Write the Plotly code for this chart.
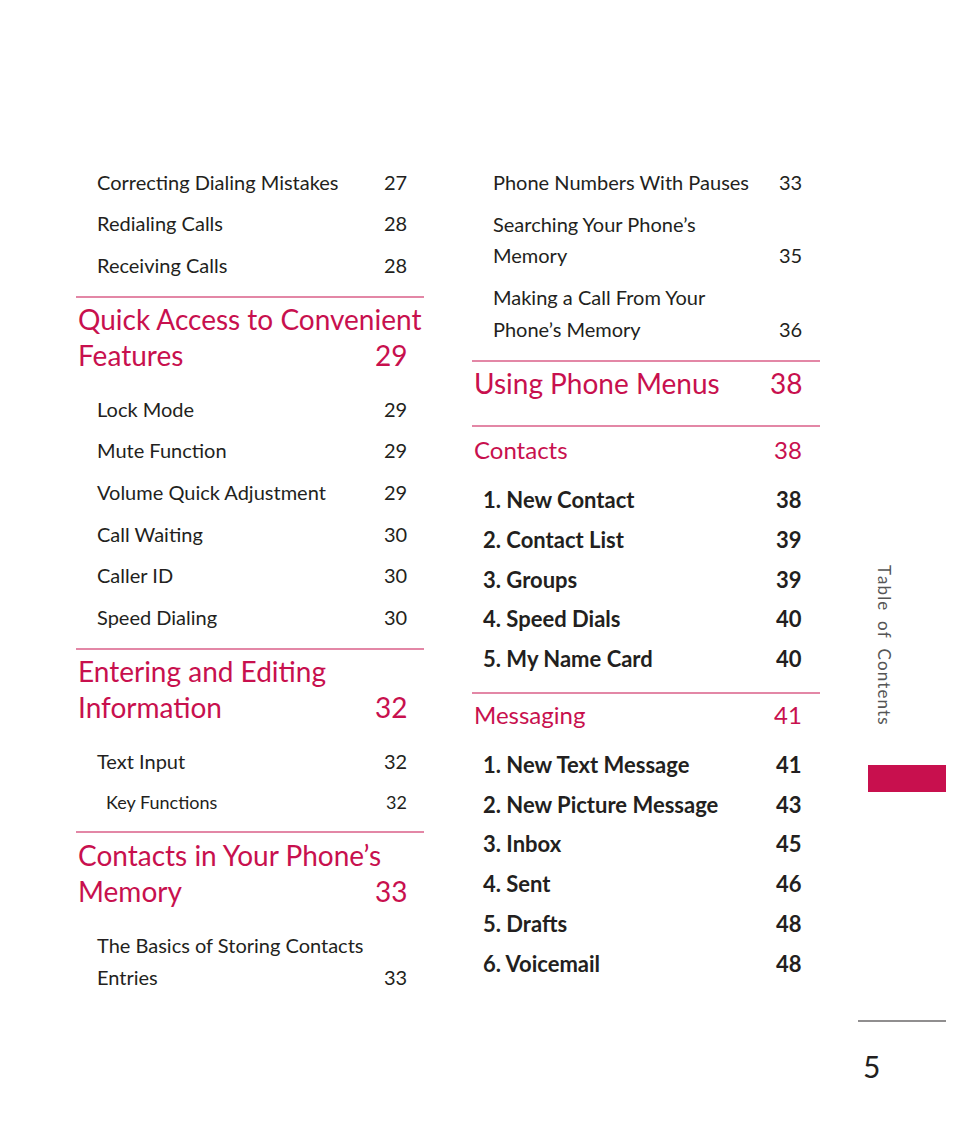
import plotly.graph_objects as go

RED = "#C8104E"
FONT = "Lato"

# left column data
left_top_items = ["Correcting Dialing Mistakes", "Redialing Calls", "Receiving Calls"]
left_top_pages = ["27", "28", "28"]
quick_head = ["Quick Access to Convenient", "Features"]
quick_page = "29"
quick_items = ["Lock Mode", "Mute Function", "Volume Quick Adjustment", "Call Waiting", "Caller ID", "Speed Dialing"]
quick_pages = ["29", "29", "29", "30", "30", "30"]
entering_head = ["Entering and Editing", "Information"]
entering_page = "32"
entering_items = ["Text Input", "Key Functions"]
entering_pages = ["32", "32"]
memory_head = ["Contacts in Your Phone\u2019s", "Memory"]
memory_page = "33"
memory_items = ["The Basics of Storing Contacts", "Entries"]
memory_pages = ["", "33"]

# right column data
right_top_items = ["Phone Numbers With Pauses", "Searching Your Phone\u2019s", "Memory",
                   "Making a Call From Your", "Phone\u2019s Memory"]
right_top_pages = ["33", "", "35", "", "36"]
menus_head, menus_page = "Using Phone Menus", "38"
contacts_head, contacts_page = "Contacts", "38"
contacts_items = ["1. New Contact", "2. Contact List", "3. Groups", "4. Speed Dials", "5. My Name Card"]
contacts_pages = ["38", "39", "39", "40", "40"]
messaging_head, messaging_page = "Messaging", "41"
messaging_items = ["1. New Text Message", "2. New Picture Message", "3. Inbox", "4. Sent",
                   "5. Drafts", "6. Voicemail"]
messaging_pages = ["41", "43", "45", "46", "48", "48"]
side_label = "Table of Contents"
page_number = "5"

fig = go.Figure()
ann = []
shapes = []


def text(x, y, s, size, color="#231F20", anchor="left", bold=False, **kw):
    if bold:
        s = "<b>" + s + "</b>"
    ann.append(dict(x=x, y=y, text=s, xref="x", yref="y", showarrow=False,
                    xanchor=anchor, yanchor="middle",
                    font=dict(family=FONT, size=size, color=color), **kw))


def rows(xt, xp, ys, items, pages, size, bold=False):
    for y, t, p in zip(ys, items, pages):
        text(xt, y, t, size, bold=bold)
        if p:
            text(xp, y, p, size, anchor="right", bold=bold)


def hline(x0, x1, y, color=RED):
    shapes.append(dict(type="line", x0=x0, x1=x1, y0=y, y1=y, xref="x", yref="y",
                       line=dict(color=color, width=1.2)))


def heading(x, xp, ys, lines, page, size):
    for y, t in zip(ys, lines):
        text(x, y, t, size, color=RED)
    text(xp, ys[-1], page, size, color=RED, anchor="right")


# left column
rows(95, 409, [182, 223, 265], left_top_items, left_top_pages, 20)
hline(76, 424, 297)
heading(76, 409, [319, 355], quick_head, quick_page, 28)
rows(95, 409, [409, 450, 492, 534, 575, 617], quick_items, quick_pages, 20)
hline(76, 424, 649)
heading(76, 409, [671, 707], entering_head, entering_page, 28)
rows(95, 409, [761], entering_items[:1], entering_pages[:1], 20)
rows(104, 409, [802], entering_items[1:], entering_pages[1:], 18)
hline(76, 424, 832)
heading(76, 409, [855, 891], memory_head, memory_page, 28)
rows(95, 409, [945, 977], memory_items, memory_pages, 20)

# right column
rows(491, 804, [182, 224, 255, 297, 329], right_top_items, right_top_pages, 20)
hline(472, 820, 361)
heading(472, 804, [383], [menus_head], menus_page, 28)
hline(472, 820, 426)
heading(472, 804, [449], [contacts_head], contacts_page, 24)
rows(481, 804, [499, 539, 579, 618, 658], contacts_items, contacts_pages, 22, bold=True)
hline(472, 820, 693)
heading(472, 804, [714], [messaging_head], messaging_page, 24)
rows(481, 804, [764, 804, 843, 883, 923, 963], messaging_items, messaging_pages, 22, bold=True)

# side tab
text(885, 645, "&#8202;".join(side_label).replace(" ", "&nbsp;&nbsp;"), 17,
     color="#555555", anchor="center", textangle=90)
shapes.append(dict(type="rect", x0=868, x1=954, y0=765, y1=792, xref="x", yref="y",
                   fillcolor=RED, line=dict(width=0)))
hline(858, 954, 1021, color="#231F20")
text(871, 1066, page_number, 30, anchor="center")

# page body has an 8px margin, so offset the axes to keep page coordinates
fig.update_layout(
    width=938, height=1129, margin=dict(l=0, r=0, t=0, b=0),
    paper_bgcolor="white", plot_bgcolor="white",
    xaxis=dict(range=[8, 946], visible=False, fixedrange=True),
    yaxis=dict(range=[1137, 8], visible=False, fixedrange=True),
    annotations=ann, shapes=shapes, showlegend=False,
)
fig.write_html("out.html")
